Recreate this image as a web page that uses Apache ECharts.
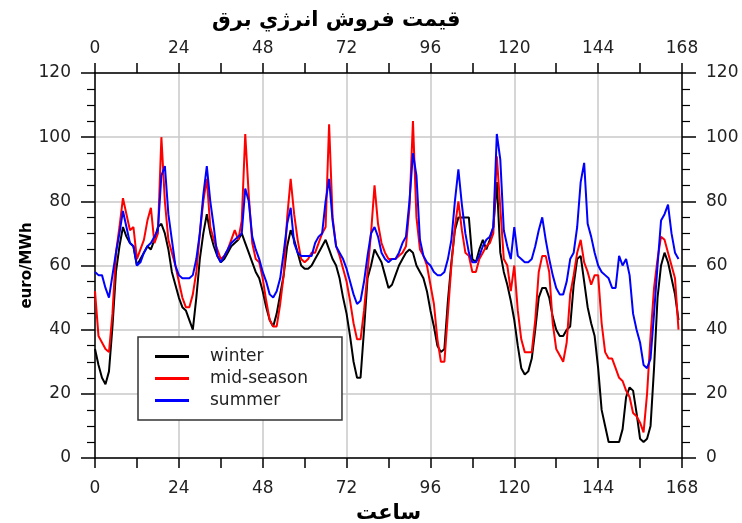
<!DOCTYPE html>
<html>
<head>
<meta charset="utf-8">
<script src="https://cdn.jsdelivr.net/npm/echarts@6/dist/echarts.min.js"></script>
<style>
  html, body { margin: 0; padding: 0; background: #fff; }
  #chart { width: 742px; height: 523px; }
</style>
</head>
<body>
<div id="chart"></div>
<script>
// hourly electricity price (euro/MWh) over one week, hours 0..167
const winter = [
  34, 29, 25, 23, 27, 41, 58, 66, 72, 69, 67, 66,
  60, 62, 64, 66, 65, 68, 72, 73, 70, 65, 58, 54,
  50, 47, 46, 43, 40, 50, 62, 70, 76, 70, 66, 63,
  61, 62, 64, 66, 67, 68, 70, 67, 64, 61, 58, 56,
  52, 47, 43, 41, 45, 51, 57, 66, 71, 68, 64, 60,
  59, 59, 60, 62, 64, 66, 68, 65, 62, 60, 56, 50,
  45, 38, 30, 25, 25, 40, 56, 60, 65, 63, 61, 57,
  53, 54, 57, 60, 62, 64, 65, 64, 60, 58, 56, 52,
  46, 41, 35, 33, 34, 49, 61, 71, 75, 75, 75, 75,
  62, 61, 65, 68, 65, 68, 72, 86, 64, 58, 54, 49,
  43, 35, 28, 26, 27, 31, 40, 50, 53, 53, 50, 44,
  40, 38, 38, 40, 41, 54, 62, 63, 55, 47, 42, 38,
  28, 15, 10, 5, 5, 5, 5, 9, 19, 22, 21, 14,
  6, 5, 6, 10, 28, 50, 60, 64, 61, 56, 51, 43
]

const midSeason = [
  52, 38, 36, 34, 33, 45, 64, 72, 81, 76, 71, 72,
  62, 65, 68, 74, 78, 67, 70, 100, 80, 68, 64, 60,
  55, 50, 47, 47, 51, 58, 70, 80, 87, 72, 68, 65,
  62, 63, 65, 68, 71, 68, 74, 101, 82, 67, 62, 61,
  56, 49, 43, 41, 41, 48, 57, 75, 87, 76, 68, 62,
  61, 62, 64, 64, 67, 70, 72, 104, 75, 66, 63, 59,
  55, 49, 42, 37, 37, 46, 58, 70, 85, 73, 67, 64,
  62, 62, 62, 63, 64, 66, 78, 105, 75, 65, 63, 60,
  54, 48, 37, 30, 30, 45, 60, 72, 80, 71, 64, 63,
  58, 58, 62, 64, 66, 67, 70, 94, 78, 62, 60, 52,
  60, 46, 37, 33, 33, 33, 43, 58, 63, 63, 58, 42,
  34, 32, 30, 36, 51, 57, 64, 68, 61, 58, 54, 57,
  57, 42, 33, 31, 31, 28, 25, 24, 21, 19, 14, 13,
  11, 8, 20, 38, 53, 62, 69, 68, 64, 60, 56, 40
]

const summer = [
  58, 57, 57, 53, 50, 57, 64, 70, 77, 72, 67, 66,
  60, 61, 64, 66, 67, 69, 71, 88, 91, 76, 68, 60,
  57, 56, 56, 56, 57, 62, 70, 82, 91, 80, 72, 63,
  61, 63, 65, 67, 68, 69, 70, 84, 80, 69, 65, 62,
  58, 55, 51, 50, 52, 56, 64, 73, 78, 67, 64, 63,
  63, 63, 63, 67, 69, 70, 80, 87, 74, 66, 64, 62,
  59, 55, 51, 48, 49, 55, 63, 70, 72, 69, 64, 62,
  61, 62, 62, 64, 67, 69, 80, 95, 88, 68, 63, 61,
  60, 58, 57, 57, 58, 62, 68, 80, 90, 79, 70, 64,
  61, 61, 63, 66, 68, 69, 72, 101, 93, 71, 66, 62,
  72, 63, 62, 61, 61, 62, 66, 71, 75, 68, 62, 57,
  53, 51, 51, 55, 62, 64, 72, 86, 92, 73, 69, 64,
  60, 58, 57, 56, 53, 53, 63, 60, 62, 57, 45, 40,
  36, 29, 28, 31, 45, 60, 74, 76, 79, 70, 64, 62
]

const seriesNames = ['winter', 'mid-season', 'summer']
const seriesColors = ['#000000', '#ff0000', '#0000ff']

const titleText = 'قيمت فروش انرژي برق'
const xName = 'ساعت'
const yName = 'euro/MWh'

function toPoints(values) {
    return values.map(function (v, i) { return [i, v] })
}

const chart = echarts.init(document.getElementById('chart'))

const tickFont = { fontFamily: 'DejaVu Sans', fontSize: 17, color: '#222' }

function xAxisBase(pos, margin) {
    return {
        type: 'value',
        position: pos,
        min: 0,
        max: 168,
        interval: 24,
        axisLine: { show: true, onZero: false, lineStyle: { color: '#000', width: 1.5 } },
        axisTick: { show: true, length: 10, lineStyle: { color: '#000', width: 1.5 } },
        minorTick: { show: true, splitNumber: 2, length: 10, lineStyle: { color: '#000', width: 1.5 } },
        axisLabel: Object.assign({ margin: margin }, tickFont),
        splitLine: { show: false },
        minorSplitLine: { show: false }
    }
}

function yAxisBase(pos) {
    return {
        type: 'value',
        position: pos,
        min: 0,
        max: 120,
        interval: 20,
        axisLine: { show: true, onZero: false, lineStyle: { color: '#000', width: 1.5 } },
        axisTick: { show: true, length: 14, lineStyle: { color: '#000', width: 1.5 } },
        minorTick: { show: true, splitNumber: 4, length: 8, lineStyle: { color: '#000', width: 1.2 } },
        axisLabel: Object.assign({ margin: 24 }, tickFont),
        splitLine: { show: false },
        minorSplitLine: { show: false }
    }
}

const xBottom = xAxisBase('bottom', 22)
xBottom.splitLine = { show: true, lineStyle: { color: '#c8c8c8', width: 1.5 } }
xBottom.name = xName
xBottom.nameLocation = 'middle'
xBottom.nameGap = 45
xBottom.nameTextStyle = { fontFamily: 'DejaVu Sans', fontSize: 21, fontWeight: 'bold', color: '#000' }

const xTop = xAxisBase('top', 16)

const yLeft = yAxisBase('left')
yLeft.splitLine = { show: true, lineStyle: { color: '#c8c8c8', width: 1.5 } }
yLeft.name = yName
yLeft.nameLocation = 'middle'
yLeft.nameGap = 60
yLeft.nameRotate = 90
yLeft.nameMoveOverlap = false
yLeft.nameTextStyle = { fontFamily: 'DejaVu Sans', fontSize: 15, fontWeight: 'bold', color: '#000' }

const yRight = yAxisBase('right')

const series = [winter, midSeason, summer].map(function (vals, k) {
    return {
        name: seriesNames[k],
        type: 'line',
        xAxisIndex: 0,
        yAxisIndex: 0,
        data: toPoints(vals),
        symbol: 'none',
        lineStyle: { color: seriesColors[k], width: 2 },
        itemStyle: { color: seriesColors[k] }
    }
})

const option = {
    animation: false,
    backgroundColor: '#fff',
    title: {
        text: titleText,
        left: 207,
        top: 5,
        textStyle: { fontFamily: 'DejaVu Sans', fontSize: 21, fontWeight: 'bold', color: '#000' }
    },
    grid: { left: 95, right: 60, top: 73, bottom: 65, outerBoundsMode: 'none' },
    legend: {
        orient: 'vertical',
        left: 138,
        top: 337,
        data: seriesNames,
        icon: 'rect',
        itemWidth: 34,
        itemHeight: 3,
        itemGap: 5,
        padding: [11, 34, 11, 17],
        backgroundColor: '#fff',
        borderColor: '#333',
        borderWidth: 1.5,
        borderRadius: 0,
        textStyle: { fontFamily: 'DejaVu Sans', fontSize: 17, color: '#222', padding: [0, 0, 0, 16] }
    },
    xAxis: [xBottom, xTop],
    yAxis: [yLeft, yRight],
    series: series
}

chart.setOption(option)
</script>
</body>
</html>
